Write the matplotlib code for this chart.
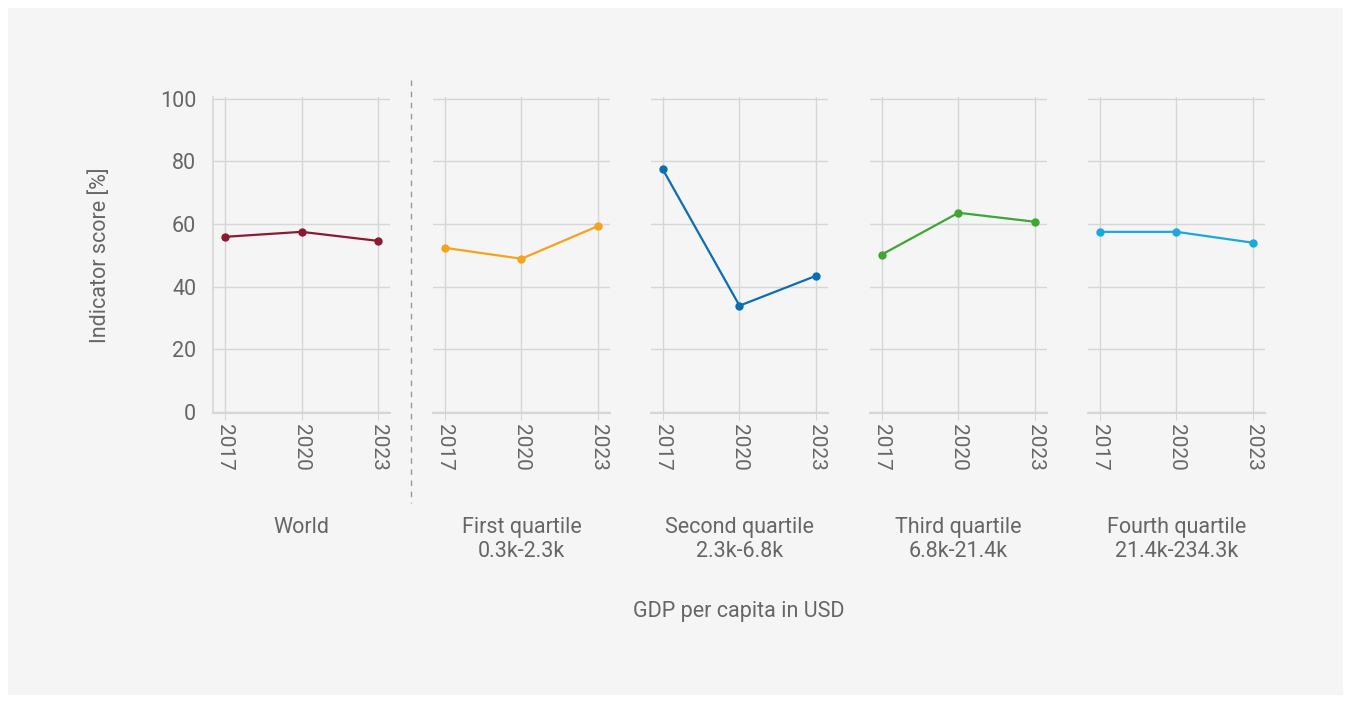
import matplotlib
matplotlib.use("Agg")
import matplotlib.pyplot as plt
from matplotlib.patches import Rectangle
from matplotlib.lines import Line2D

plt.rcParams['font.family'] = ['Roboto', 'DejaVu Sans']

years = [2017, 2020, 2023]
panel_labels = ["World", "First quartile\n0.3k-2.3k", "Second quartile\n2.3k-6.8k",
                "Third quartile\n6.8k-21.4k", "Fourth quartile\n21.4k-234.3k"]
world = [55.9, 57.5, 54.6]
first_q = [52.4, 48.9, 59.4]
second_q = [77.6, 33.9, 43.5]
third_q = [50.2, 63.6, 60.7]
fourth_q = [57.5, 57.5, 54.0]
series = [world, first_q, second_q, third_q, fourth_q]
colors = ["#8c1a30", "#f5a31a", "#0a6db5", "#3da635", "#19a9dc"]
yticks = [0, 20, 40, 60, 80, 100]

W, H = 1351, 702
fig = plt.figure(figsize=(W / 100, H / 100), dpi=100)
fig.patch.set_facecolor("white")
fig.patches.append(Rectangle((8 / W, 7 / H), (W - 16) / W, (H - 15) / H,
                             transform=fig.transFigure, facecolor="#f5f5f5",
                             edgecolor="none", zorder=-10))

txt = "#666666"
grid_c = "#d6d6d6"
lefts = [213, 433, 651, 870, 1088]
pw = 177
top_px, bot_px = 97, 413

for i, (vals, col, lab) in enumerate(zip(series, colors, panel_labels)):
    ax = fig.add_axes([lefts[i] / W, (H - bot_px) / H, pw / W, (bot_px - top_px) / H])
    ax.set_facecolor("none")
    ax.plot(years, vals, color=col, lw=1.6, marker="o", ms=5, zorder=3, clip_on=False)
    ax.set_xlim(2016.55, 2023.45)
    ax.set_ylim(-0.4, 100.6)
    ax.set_xticks(years)
    ax.set_xticklabels([str(y) for y in years], rotation=270, fontsize=15, color=txt)
    ax.set_yticks(yticks)
    ax.grid(True, color=grid_c, lw=1)
    ax.tick_params(axis="x", length=5, color=grid_c, pad=3)
    ax.tick_params(axis="y", length=0, pad=12)
    for s in ["top", "right"]:
        ax.spines[s].set_visible(False)
    ax.spines["bottom"].set_color(grid_c)
    ax.spines["bottom"].set_linewidth(1.5)
    if i == 0:
        ax.set_yticklabels([str(v) for v in yticks], fontsize=15.5, color=txt)
        ax.spines["left"].set_color(grid_c)
        ax.spines["left"].set_linewidth(1.2)
    else:
        ax.set_yticklabels([])
        ax.spines["left"].set_visible(False)
    ax.set_axisbelow(True)
    cx = (lefts[i] + pw / 2) / W
    fig.text(cx, 1 - 517 / H, lab, ha="center", va="top", fontsize=15.5, color=txt,
             linespacing=1.2)

fig.lines.append(Line2D([411 / W, 411 / W], [1 - 80 / H, 1 - 503 / H],
                        transform=fig.transFigure, color="#999999", lw=1,
                        linestyle=(0, (4, 4))))

fig.text(739 / W, 1 - 612 / H, "GDP per capita in USD", ha="center", va="center",
         fontsize=15.5, color=txt)
fig.text(100 / W, 1 - 255 / H, "Indicator score [%]", ha="center", va="center",
         rotation=90, fontsize=15.5, color=txt)

fig.savefig("out.png", dpi=100, facecolor=fig.get_facecolor())
